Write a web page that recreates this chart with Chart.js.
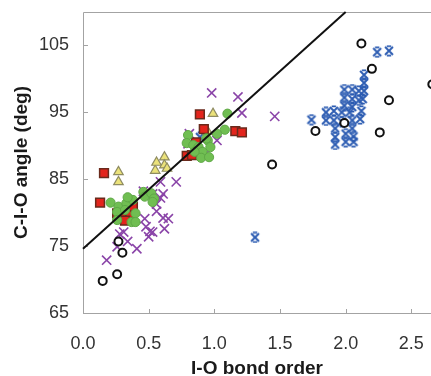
<!DOCTYPE html>
<html>
<head>
<meta charset="utf-8">
<script src="https://cdn.jsdelivr.net/npm/chart.js@4/dist/chart.umd.min.js"></script>
<style>
  html, body { margin: 0; padding: 0; background: #fff; overflow: hidden; }
  canvas { display: block; }
</style>
</head>
<body>
<canvas id="c" width="431" height="376"></canvas>
<script>
// ---- axis ticks ----
const xTicks = [0, 0.5, 1.0, 1.5, 2.0, 2.5];
const yTicks = [65, 75, 85, 95, 105];
const xRange = [0, 2.65];
const yRange = [65, 110];

// ---- series (I-O bond order, C-I-O angle) ----
const redSquares = [
  [0.16, 85.9], [0.13, 81.5], [0.26, 79.9], [0.31, 79.6], [0.36, 79.9], [0.38, 80.9],
  [0.32, 78.8], [0.79, 88.5], [0.83, 88.6], [0.86, 90.5], [0.89, 94.7], [0.92, 92.5],
  [1.16, 92.2], [1.21, 92.0]
];
const yellowTriangles = [
  [0.27, 86.1], [0.27, 84.6], [0.55, 86.3], [0.56, 87.5], [0.62, 88.3], [0.62, 87.1],
  [0.64, 86.6], [0.99, 94.8], [0.95, 92.1]
];
const greenCircles = [
  [0.21, 81.5], [0.27, 80.9], [0.33, 81.4], [0.38, 81.9], [0.34, 82.3], [0.26, 80.1],
  [0.32, 80.4], [0.40, 79.9], [0.26, 78.9], [0.37, 78.6], [0.40, 78.6], [0.46, 83.1],
  [0.47, 82.4], [0.52, 82.9], [0.54, 82.1], [0.53, 81.6],
  [1.10, 94.8], [1.08, 92.4], [1.02, 91.8], [0.95, 90.8], [0.80, 91.6], [0.79, 90.4],
  [0.84, 90.1], [0.88, 89.8], [0.91, 89.1], [0.85, 89.1], [0.90, 88.2], [0.96, 88.3],
  [0.94, 91.1], [0.97, 89.8]
];
const purpleCrosses = [
  [0.98, 97.9], [1.18, 97.3], [1.21, 94.9], [1.46, 94.4], [1.02, 90.8], [0.94, 88.9],
  [0.81, 91.8], [0.80, 90.3], [0.71, 84.6], [0.59, 84.6], [0.46, 83.2], [0.61, 82.8],
  [0.53, 82.8], [0.56, 81.3], [0.59, 82.2], [0.56, 80.2], [0.61, 79.2], [0.65, 79.1],
  [0.48, 77.9], [0.51, 77.2], [0.50, 76.4], [0.41, 74.6], [0.34, 75.7], [0.26, 74.9],
  [0.31, 77.1], [0.28, 76.8], [0.18, 72.9], [0.53, 77.1], [0.47, 79.1], [0.62, 77.6]
];
const blueStars = [
  [2.24, 104.0], [2.33, 104.2],
  [2.14, 100.6], [2.14, 99.4], [2.14, 98.2], [2.13, 97.0],
  [1.99, 98.4], [2.05, 98.4], [2.10, 98.2],
  [1.99, 97.2], [2.05, 97.0], [2.10, 96.8],
  [1.99, 96.0], [2.05, 95.8],
  [1.74, 93.9], [1.85, 95.0], [1.85, 93.8],
  [1.91, 95.2], [1.91, 93.8], [1.92, 92.6],
  [1.97, 95.0], [1.97, 93.6],
  [2.03, 95.0], [2.05, 93.8], [2.05, 92.6], [2.06, 91.4],
  [2.11, 94.0], [2.12, 95.2],
  [1.92, 91.3], [1.92, 90.2], [2.00, 90.6], [2.06, 90.6], [2.00, 91.8],
  [1.31, 76.3], [0.89, 91.3]
];
const blackCircles = [
  [2.12, 105.3], [2.20, 101.5], [2.33, 96.8], [1.99, 93.4], [1.77, 92.2], [2.26, 92.0],
  [1.44, 87.2], [2.66, 99.2], [0.27, 75.7], [0.30, 74.0], [0.26, 70.8], [0.15, 69.8]
];
const fitLine = [[0, 74.6], [2.0, 110]];

const pts = a => a.map(([x, y]) => ({ x, y }));

function makeBlueMark() {
  const c = document.createElement('canvas');
  c.width = 12; c.height = 12;
  const g = c.getContext('2d');
  g.strokeStyle = '#2c5cb2';
  g.lineWidth = 1.9;
  g.beginPath();
  g.moveTo(2, 2); g.lineTo(10, 10);
  g.moveTo(10, 2); g.lineTo(2, 10);
  g.moveTo(3.8, 1.4); g.lineTo(8.2, 1.4);
  g.moveTo(3.8, 10.6); g.lineTo(8.2, 10.6);
  g.stroke();
  return c;
}

const frame = {
  id: 'frame',
  beforeDatasetsDraw(chart) {
    const { ctx, chartArea: a, scales: { x, y } } = chart;
    ctx.save();
    ctx.strokeStyle = '#a3a3a3';
    ctx.lineWidth = 1;
    ctx.beginPath();
    ctx.moveTo(a.left + 0.5, a.bottom + 0.5);
    ctx.lineTo(a.left + 0.5, a.top + 0.5);
    ctx.lineTo(a.right + 5, a.top + 0.5);
    ctx.moveTo(a.left, a.bottom + 0.5);
    ctx.lineTo(a.right + 5, a.bottom + 0.5);
    xTicks.forEach(v => {
      const px = Math.round(x.getPixelForValue(v)) + 0.5;
      ctx.moveTo(px, a.bottom);
      ctx.lineTo(px, a.bottom - 4);
    });
    yTicks.forEach(v => {
      const py = Math.round(y.getPixelForValue(v)) + 0.5;
      ctx.moveTo(a.left, py);
      ctx.lineTo(a.left + 5, py);
    });
    ctx.stroke();
    ctx.restore();
  }
};

Chart.defaults.font.family = "'Liberation Sans', Arial, sans-serif";

new Chart(document.getElementById('c'), {
  type: 'scatter',
  data: {
    datasets: [
      {
        type: 'line', data: pts(fitLine), borderColor: '#111', borderWidth: 2,
        pointRadius: 0, fill: false, order: 0, clip: false
      },
      {
        data: pts(blackCircles), pointStyle: 'circle', pointRadius: 4,
        pointBackgroundColor: '#fff', pointBorderColor: '#111', pointBorderWidth: 2, order: 1, clip: false
      },
      {
        data: pts(greenCircles), pointStyle: 'circle', pointRadius: 4.6,
        pointBackgroundColor: '#70be52', pointBorderColor: '#5fa846', pointBorderWidth: 1, order: 2, clip: false
      },
      {
        data: pts(redSquares), pointStyle: 'rect', pointRadius: 6.2,
        pointBackgroundColor: '#e3241c', pointBorderColor: '#6a2a1c', pointBorderWidth: 1.5, order: 3, clip: false
      },
      {
        data: pts(yellowTriangles), pointStyle: 'triangle', pointRadius: 5.5,
        pointBackgroundColor: '#ebe27a', pointBorderColor: '#8f8c62', pointBorderWidth: 1.2, order: 4, clip: false
      },
      {
        data: pts(purpleCrosses), pointStyle: 'crossRot', pointRadius: 6.5,
        pointBorderColor: '#8a44a8', pointBorderWidth: 1.6, order: 5, clip: false
      },
      {
        data: pts(blueStars), pointStyle: makeBlueMark(), pointRadius: 5,
        order: 6, clip: false
      }
    ]
  },
  options: {
    responsive: false,
    animation: false,
    events: [],
    layout: { autoPadding: false, padding: { top: 12, right: 0, left: 0, bottom: 0 } },
    plugins: { legend: { display: false }, tooltip: { enabled: false } },
    scales: {
      x: {
        type: 'linear', min: xRange[0], max: xRange[1],
        grid: { display: false, drawTicks: false },
        border: { display: false },
        afterBuildTicks: s => { s.ticks = xTicks.map(v => ({ value: v })); },
        afterFit: s => { s.height = 63; s.paddingLeft = 0; s.paddingRight = 0; },
        ticks: {
          padding: 20, color: '#333', font: { size: 18 },
          callback: v => Number(v).toFixed(1), maxRotation: 0, autoSkip: false
        },
        title: {
          display: true, text: 'I-O bond order', color: '#1a1a1a',
          font: { size: 19, weight: 'bold', lineHeight: 0.8 }, padding: { top: 0, bottom: 0 }
        }
      },
      y: {
        type: 'linear', min: yRange[0], max: yRange[1],
        grid: { display: false, drawTicks: false },
        border: { display: false },
        afterBuildTicks: s => { s.ticks = yTicks.map(v => ({ value: v })); },
        afterFit: s => { s.width = 83; s.paddingTop = 0; s.paddingBottom = 0; },
        ticks: { padding: 14, color: '#333', font: { size: 18 }, autoSkip: false },
        title: {
          display: true, text: 'C-I-O angle (deg)', color: '#1a1a1a',
          font: { size: 19, weight: 'bold', lineHeight: 1.2 }, padding: { top: 10, bottom: 0 }
        }
      }
    }
  },
  plugins: [frame]
});
</script>
</body>
</html>
